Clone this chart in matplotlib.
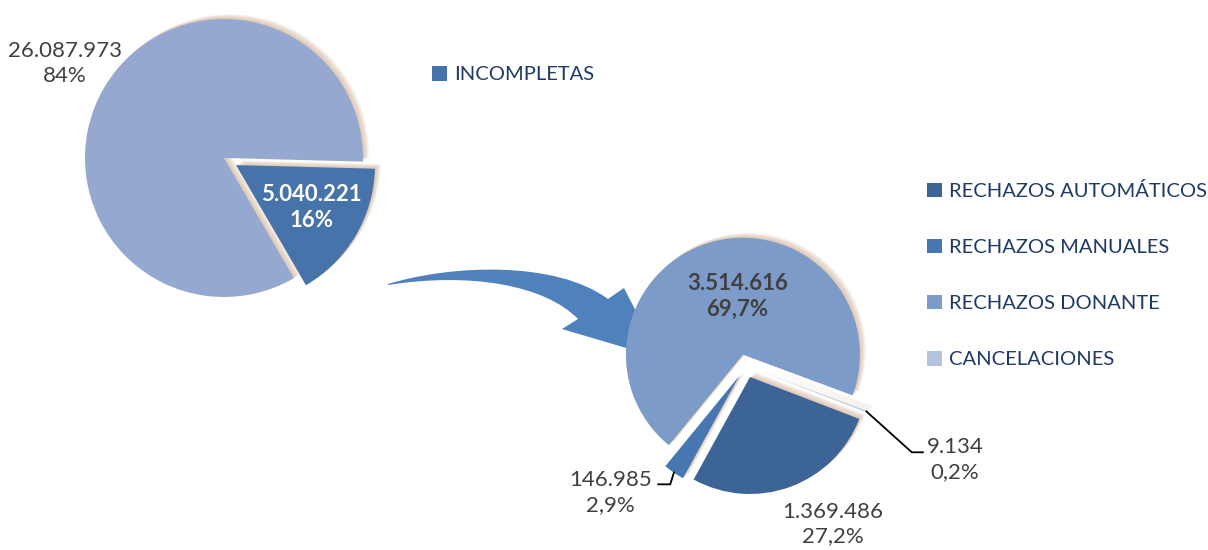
import numpy as np
import matplotlib
matplotlib.use("Agg")
import matplotlib.pyplot as plt
import matplotlib.patheffects as pe
from matplotlib.patches import Patch, PathPatch
from matplotlib.path import Path

plt.rcParams['font.family'] = ['Lato', 'DejaVu Sans']

# data
left_labels = ['INCOMPLETAS', 'COMPLETAS']
left_values = [5040221, 26087973]
left_txt = ['5.040.221\n16%', '26.087.973\n84%']

right_labels = ['RECHAZOS AUTOMÁTICOS', 'RECHAZOS MANUALES', 'RECHAZOS DONANTE', 'CANCELACIONES']
right_values = [1369486, 146985, 3514616, 9134]
right_txt = ['1.369.486\n27,2%', '146.985\n2,9%', '3.514.616\n69,7%', '9.134\n0,2%']

# styles
left_colors = ['#4673A9', '#95A9D0']
right_colors = ['#3C6497', '#4777B1', '#7D9BC8', '#B4C4DF']
legend_col = '#1F3A66'
label_col = '#404040'
W, H = 1208, 550
lab_fs = 16

fig = plt.figure(figsize=(W / 100, H / 100), dpi=100)
ax = fig.add_axes([0, 0, 1, 1])

def glow(w):
    effs = [pe.SimplePatchShadow(offset=(o, o * 0.8), shadow_rgbFace='#CDAA8C', alpha=0.14)
            for o in (0.7, 1.4, 2.1, 2.8, 3.5, 4.2)]
    w.set_path_effects(effs + [pe.Normal()])

def polar(c, r, ang):
    a = np.deg2rad(ang)
    return c[0] + r * np.cos(a), c[1] + r * np.sin(a)

# left pie
lc, lr = (224, H - 158), 139
lw, _ = ax.pie(left_values, colors=left_colors, startangle=-1.5, counterclock=False,
               explode=[0.1 * lr, 0], center=lc, radius=lr,
               wedgeprops=dict(linewidth=0))
for w in lw:
    glow(w)

# left labels (distance in radii, angle offset)
left_lab = [(0.725, 1.2, 'white', 'bold'), (1.33, 0, label_col, 'normal')]
for w, t, (d, off, col, fw) in zip(lw, left_txt, left_lab):
    mid = (w.theta1 + w.theta2) / 2
    x, y = polar(lc, lr * d, mid + off)
    ax.text(x, y, t, ha='center', va='center', color=col, fontsize=lab_fs,
            fontweight=fw, linespacing=1.3, zorder=5)

# curved arrow (decoration between pies)
ipts = [(388, 284), (450, 265), (555, 260), (608, 299),
        (624, 288), (660, 358), (562, 329), (578, 319),
        (545, 285), (470, 272), (388, 285), (388, 284)]
codes = [Path.MOVETO, Path.CURVE4, Path.CURVE4, Path.CURVE4,
         Path.LINETO, Path.LINETO, Path.LINETO, Path.LINETO,
         Path.CURVE4, Path.CURVE4, Path.CURVE4, Path.CLOSEPOLY]
arrow = Path([(x, H - y) for x, y in ipts], codes)
ax.add_patch(PathPatch(arrow, facecolor='#4F81BD', edgecolor='none', zorder=0.5))

# right pie
rc, rr = (746, H - 366), 117
rw, _ = ax.pie(right_values, colors=right_colors, startangle=-21, counterclock=False,
               explode=[0.1 * rr] * 4, center=rc, radius=rr,
               wedgeprops=dict(linewidth=0))
for w in rw:
    glow(w)
    w.set_zorder(2)

# right labels: (distance, angle offset, weight, leader side)
right_lab = [(1.54, 8.6, 'normal', None), (1.585, -13, 'normal', 'right'),
             (0.6, -8, 'bold', None), (1.955, -3.4, 'normal', 'left')]
for w, t, (d, off, fw, side) in zip(rw, right_txt, right_lab):
    mid = (w.theta1 + w.theta2) / 2
    x, y = polar(rc, rr * d, mid + off)
    ax.text(x, y, t, ha='center', va='center', color=label_col, fontsize=lab_fs,
            fontweight=fw, linespacing=1.3, zorder=5)
    if side:
        ex, ey = polar(rc, rr * 1.1, mid)
        if side == 'left':
            end = (x - 32, y + 7)
            elb = (end[0] - 11, end[1])
        else:
            end = (x + 48, y + 8)
            elb = (end[0] + 12, end[1])
        ax.plot([ex, elb[0], end[0]], [ey, elb[1], end[1]], color='black', lw=1.3, zorder=4)

# legends
fs = 14.5
leg1 = ax.legend([Patch(facecolor=left_colors[0])], [left_labels[0]],
                 loc='upper left', bbox_to_anchor=(432, H - 66), bbox_transform=ax.transData,
                 frameon=False, fontsize=fs, borderpad=0, borderaxespad=0,
                 handlelength=0.75, handleheight=0.75, handletextpad=0.35, labelcolor=legend_col)
ax.add_artist(leg1)
ax.legend([Patch(facecolor=c) for c in right_colors], right_labels,
          loc='upper left', bbox_to_anchor=(927, H - 182), bbox_transform=ax.transData,
          frameon=False, fontsize=fs, borderpad=0, borderaxespad=0, labelspacing=1.92,
          handlelength=0.75, handleheight=0.75, handletextpad=0.35, labelcolor=legend_col)

ax.set_xlim(0, W)
ax.set_ylim(0, H)
ax.set_aspect('equal')
ax.axis('off')
fig.savefig('out.png', dpi=100)
